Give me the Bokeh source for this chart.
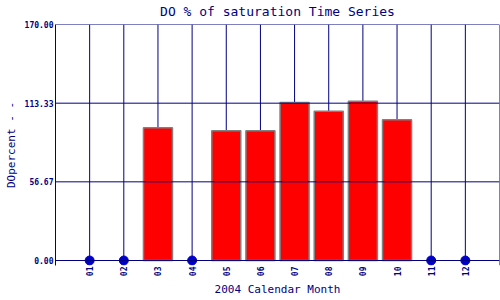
import math
from bokeh.plotting import figure
from bokeh.models import FixedTicker, PrintfTickFormatter, Range1d, Span
from bokeh.embed import file_html
from bokeh.resources import INLINE

months = ["01", "02", "03", "04", "05", "06", "07", "08", "09", "10", "11", "12"]
month_num = [1, 2, 3, 4, 5, 6, 7, 8, 9, 10, 11, 12]
do_pct = [None, None, 95.6, None, 93.4, 93.5, 113.8, 107.6, 114.8, 101.4, None, None]
y_ticks = [0.0, 56.67, 113.33, 170.0]
x_lo, x_hi = 0, 13
y_lo, y_hi = 0, 170

NAVY = "#000080"
FONT = "DejaVu Sans Mono"

bar_x = [m for m, v in zip(month_num, do_pct) if v is not None]
bar_top = [v for v in do_pct if v is not None]
miss_x = [m for m, v in zip(month_num, do_pct) if v is None]
miss_y = [y_lo for _ in miss_x]

p = figure(width=500, height=300, output_backend="svg", toolbar_location=None,
           x_range=Range1d(x_lo, x_hi), y_range=Range1d(y_lo - 3.6, y_hi),
           min_border_left=55, min_border_right=1, min_border_top=24, min_border_bottom=35)

p.title.text = "DO % of saturation Time Series"
p.title.align = "center"
p.title.vertical_align = "top"
p.title.text_font = FONT
p.title.text_font_style = "normal"
p.title.text_font_size = "13px"
p.title.text_color = NAVY
p.title.standoff = 7
p.title.offset = 0

# grid lines (stopping at y = 0)
p.segment(x0=month_num, x1=month_num, y0=[y_lo] * 12, y1=[y_hi] * 12,
          line_color=NAVY, line_width=1)
for t in y_ticks:
    p.add_layout(Span(location=t, dimension="width", line_color=NAVY, line_width=1))
p.add_layout(Span(location=x_hi, dimension="height", line_color=NAVY, line_width=1))

p.vbar(x=bar_x, top=bar_top, bottom=y_lo, width=0.85, fill_color="#ff0000",
       line_color="#808080", line_width=1.5)
p.scatter(x=miss_x, y=miss_y, size=9, marker="circle", fill_color="#0000cc",
          line_color="#0000cc")

p.xaxis.ticker = FixedTicker(ticks=month_num)
p.xaxis.major_label_overrides = {m: s for m, s in zip(month_num, months)}
p.xaxis.major_label_orientation = math.pi / 2
p.yaxis.ticker = FixedTicker(ticks=y_ticks)
p.yaxis.formatter = PrintfTickFormatter(format="%.2f")

for ax in (p.xaxis, p.yaxis):
    ax.major_label_text_font = FONT
    ax.major_label_text_font_size = "8px"
    ax.major_label_text_font_style = "bold"
    ax.major_label_text_color = NAVY
    ax.major_tick_line_color = None
    ax.minor_tick_line_color = None
    ax.major_tick_out = 0
    ax.major_tick_in = 0
    ax.major_label_standoff = 2
    ax.axis_label_standoff = 4
    ax.axis_label_text_font = FONT
    ax.axis_label_text_font_size = "11px"
    ax.axis_label_text_font_style = "normal"
    ax.axis_label_text_color = NAVY
p.xaxis.axis_line_color = None
p.yaxis.axis_line_color = NAVY
p.xaxis.major_label_standoff = 1
p.xaxis.axis_label_standoff = 4

p.xaxis.axis_label = "2004 Calendar Month"
p.yaxis.axis_label = "DOpercent - -"

p.grid.grid_line_color = None
p.outline_line_color = None

open("out.html", "w").write(file_html(p, INLINE))
